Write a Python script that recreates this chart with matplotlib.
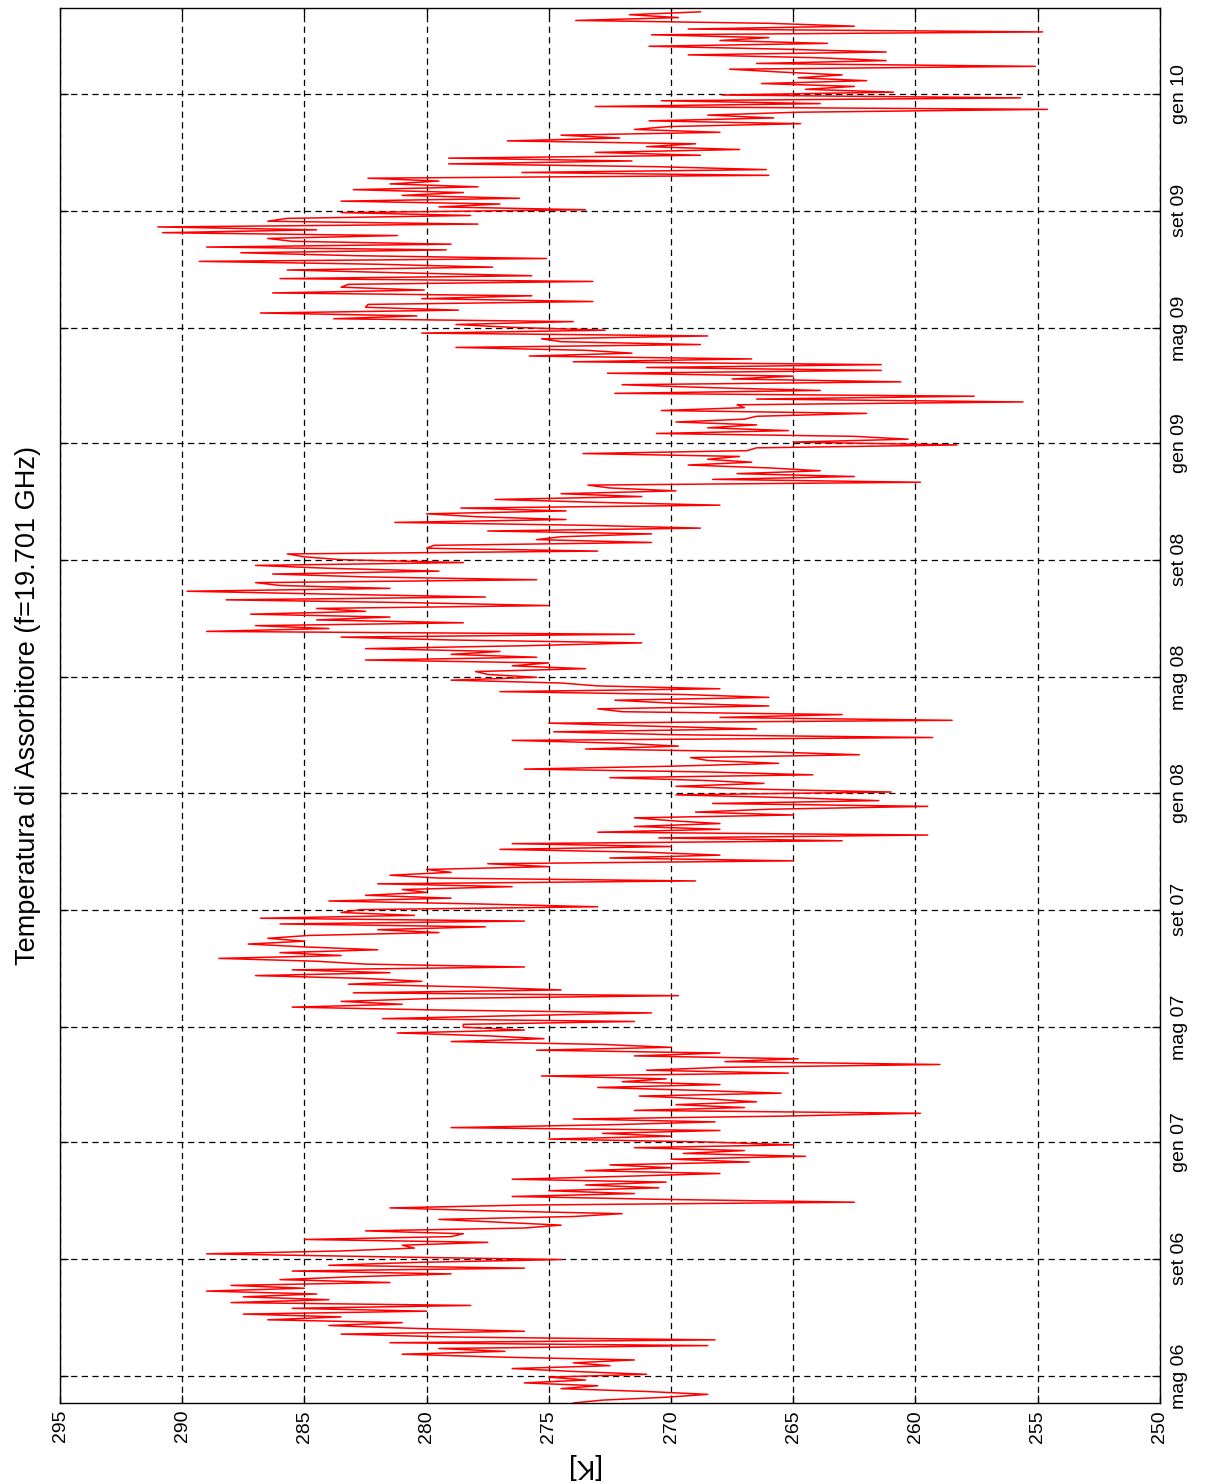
import matplotlib
matplotlib.use('Agg')
import matplotlib.pyplot as plt
import numpy as np

# chart is drawn "lying down": temperature runs along x (inverted), time runs up along y

start_day = '2006-04-03'
end_day = '2010-04-01'
step_days = 3

# absorber temperature [K], one reading every 3 days
temp_k = [
  # apr - giu 2006
  274, 272.8, 270.2, 268.5, 271, 274.5, 273, 276, 273.5, 275, 271, 274,
  276.5, 272.5, 274, 271.5, 277, 281, 276.8, 279.5, 268.5, 281.5, 268.2,
  279, 283.5, 276, 280.5, 284, 281, 286.5, 283.5, 287.5, 280, 285.5, 278.2,
  288, 284,
  # ago - nov 2006
  287.5, 284.5, 289, 285, 288, 281.5, 286, 283, 279, 285.5, 276, 284, 280.5,
  274.5, 282, 289, 283.5, 280.5, 281, 277.5, 285, 279, 278.5, 282.5, 276,
  274.5, 277, 279.5, 274, 272, 277.5, 281.5, 276, 262.5, 270.5, 276.5, 271.5,
  275, 270.5, 273.5, 270.2,
  # dic 2006 - mar 2007
  276.5, 272, 268, 273.5, 270, 272.5, 266.8, 270, 264.5, 269.5, 267, 271.5,
  265, 268.6, 275, 270, 272.8, 268, 279, 272.5, 268.2, 274, 265.5, 259.8,
  271.5, 267, 269.8, 266.5, 268.5, 271.3, 265.5, 269, 273, 268, 272, 270.2,
  275.3, 265.2, 271, 268, 259,
  # apr - lug 2007
  267.8, 264.8, 271.5, 268, 275.5, 270, 272.8, 279, 275.2, 277.5, 281.2, 276,
  278.5, 278.5, 271.5, 281.8, 276.5, 270.8, 279.5, 285.5, 281, 283.5, 279.8,
  269.7, 283, 274.5, 278, 283.2, 280.2, 282.5, 287, 281.5, 285.5, 276, 282.5,
  284.5, 288.5, 283.5, 286, 282, 285,
  # ago - nov 2007
  287.3, 285, 286.5, 284.8, 279.5, 282, 277.6, 286, 276, 286.8, 280.5, 283.5,
  282.7, 273, 278, 284, 279, 282.5, 280, 281, 276.5, 282, 269, 279.5, 281.5,
  279, 280, 275, 277.5, 265, 272.5, 268, 271, 277, 270, 276.5, 263, 270.5,
  259.5, 273, 268,
  # dic 2007 - mar 2008
  271.5, 268, 270, 271.5, 265, 269, 266, 259.5, 268.3, 261.5, 265, 269.8, 261,
  266.5, 269.8, 266.2, 268.5, 272.5, 264.2, 268.5, 276, 270, 265.6, 268.5,
  269.2, 262.3, 266, 273.5, 269.7, 272, 276.5, 259.3, 270, 274.8, 266.5, 271,
  275, 258.5, 268, 263, 272,
  # apr - lug 2008
  273, 266, 270, 272.3, 266, 269.5, 277, 268, 273, 274.5, 279, 275.5, 277.5,
  278, 273.5, 276.5, 275, 282.5, 275.5, 279, 277, 282.5, 276, 271.2, 279,
  283.5, 271.5, 289, 284, 287, 278.5, 284.5, 281.5, 287.2, 282.5, 284.5, 275,
  280.5, 288.2, 277.6, 284,
  # ago - nov 2008
  289.8, 281.5, 286, 287, 275.5, 282.5, 286.3, 279.5, 284, 287, 278.5, 283.5,
  285, 285.7, 273, 280, 279.7, 270.8, 275.5, 274.5, 270.8, 277.5, 268.8, 273.5,
  281.3, 274.3, 278, 280, 274.3, 278.6, 268, 273, 277.2, 271.2, 274.5, 269.8,
  272.5, 273.4, 259.8, 268.3, 262.5,
  # dic 2008 - mar 2009
  267.3, 263.9, 266, 269.3, 266.7, 268.5, 267.2, 273.6, 266.9, 266.5, 258.3,
  265, 260.3, 262.5, 270.6, 265.2, 268.5, 266.5, 269.8, 267, 266.5, 262, 270.4,
  267, 267.3, 255.6, 266.5, 257.6, 272.3, 263.9, 268.5, 272, 260.6, 267.5, 265,
  272.6, 261.4, 271, 261.4, 274, 266.7,
  # apr - lug 2009
  275.8, 271.6, 273.5, 278.8, 268.8, 274.5, 275.3, 268.5, 280.2, 272.7, 276.5,
  278.8, 274, 283.8, 280.4, 286.8, 278.7, 282.5, 282.4, 273.2, 280.2, 275.7,
  286.3, 280.1, 283.5, 283.2, 273.2, 286, 275.7, 281, 285.7, 277.3, 282, 289.3,
  275.1, 283, 287.6, 279.2, 289, 279, 285.5,
  # ago - nov 2009
  286.5, 281.2, 290.8, 284.5, 291, 277.9, 286.5, 285.7, 278.2, 283.5, 273.5,
  279.5, 277, 283.5, 276.2, 281, 278.5, 283, 277.9, 281.5, 279.5, 282.4, 266,
  276.1, 266.1, 270.5, 279.1, 271.6, 279.1, 268.8, 273.1, 267.2, 271, 269,
  276.7, 272.1, 274.5, 268, 271.5, 270.1, 264.7,
  # dic 2009 - mar 2010
  270.9, 265.8, 268.5, 264.8, 254.6, 273.1, 263.9, 270.4, 255.7, 267.9, 260.9,
  264.5, 262.5, 266.3, 262, 264.8, 263, 265.5, 267.6, 255.1, 266.5, 261.2, 264,
  269.3, 261.2, 265.5, 270.9, 263.6, 268, 266, 270.8, 254.8, 269.3, 262.5, 266,
  273.9, 269.7, 271.7, 268.8,
]

tick_dates = ['2006-05-01', '2006-09-01', '2007-01-01', '2007-05-01',
              '2007-09-01', '2008-01-01', '2008-05-01', '2008-09-01',
              '2009-01-01', '2009-05-01', '2009-09-01', '2010-01-01']
tick_labels = ['mag 06', 'set 06', 'gen 07', 'mag 07', 'set 07', 'gen 08',
               'mag 08', 'set 08', 'gen 09', 'mag 09', 'set 09', 'gen 10']
temp_ticks = [295, 290, 285, 280, 275, 270, 265, 260, 255, 250]


def main():
  plt.rcParams['font.family'] = ['Liberation Sans', 'DejaVu Sans']

  days = np.datetime64(start_day) + np.arange(len(temp_k)) * step_days

  fig = plt.figure(figsize=(12.1, 14.84), dpi=100)
  ax = fig.add_axes([0.0496, 0.0546, 0.909, 0.940])

  ax.plot(temp_k, days, color='#ff0000', lw=1.1)

  ax.set_xlim(295, 250)
  ax.set_ylim(np.datetime64(start_day), np.datetime64(end_day))

  ax.set_xticks(temp_ticks)
  ax.set_xticklabels([str(t) for t in temp_ticks], rotation=90)
  ax.set_yticks(np.array(tick_dates, dtype='datetime64[D]'))
  ax.set_yticklabels(tick_labels, rotation=90, va='center')

  ax.grid(True, color='black', linestyle=(0, (5, 3.5)), linewidth=0.9)
  ax.tick_params(axis='both', direction='in', length=6, width=0.9,
                 top=True, bottom=True, left=True, right=True, labelsize=14)
  ax.tick_params(axis='y', labelleft=False, labelright=True, pad=8)
  ax.tick_params(axis='x', pad=5)
  for s in ax.spines.values():
    s.set_linewidth(1.0)

  fig.text(0.023, 0.5245, 'Temperatura di Assorbitore (f=19.701 GHz)',
           rotation=90, ha='center', va='center', fontsize=19.5)
  fig.text(582 / 1210, 1 - 1466 / 1484, '[K]', rotation=180,
           ha='center', va='center', fontsize=20)

  fig.savefig('out.png', dpi=100)


if __name__ == '__main__':
  main()
